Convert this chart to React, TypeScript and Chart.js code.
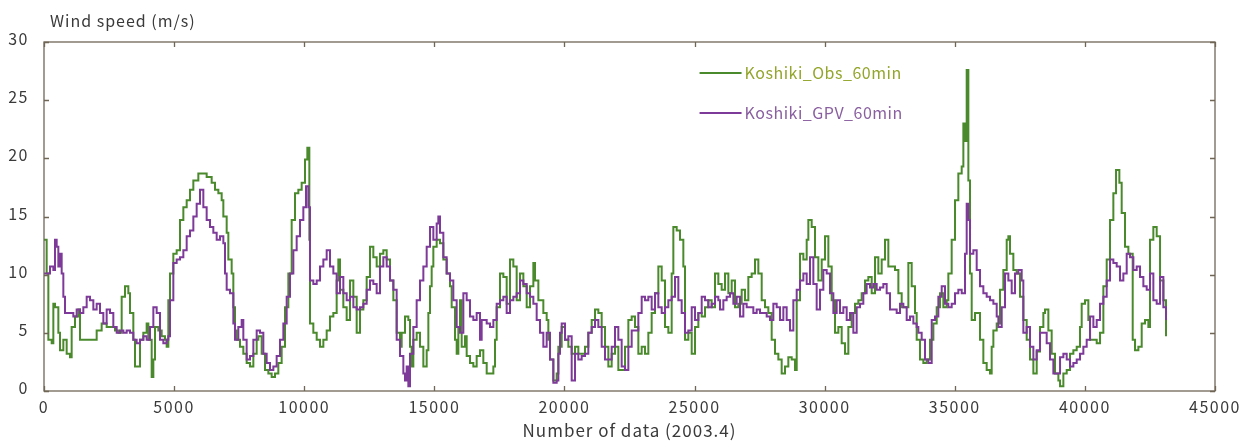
import { useEffect, useRef } from 'react';
import { Chart, registerables } from 'chart.js';

Chart.register(...registerables);

// [data index, wind speed m/s]
const obsPoints: [number, number][] = [
  [0,13.0],[102,10.1],[167,4.4],[295,4.1],[359,7.5],[423,7.2],[551,5.0],[615,3.5],[743,4.4],[871,3.2],[999,2.9],[1063,5.5],[1191,6.4],[1319,7.0],[1383,4.4],[1576,4.4],[1768,4.4],[2024,5.2],[2216,5.8],[2408,5.5],[2600,5.5],[2729,5.2],[2857,5.0],[2985,8.1],[3113,9.0],[3241,8.4],[3305,6.7],[3433,4.4],[3497,2.1],[3625,2.1],[3689,4.4],[3817,5.0],[3945,5.8],[4010,4.4],[4138,1.2],[4202,2.7],[4266,5.5],[4394,5.2],[4522,4.7],[4650,4.4],[4714,3.8],[4778,7.8],[4842,10.1],[4970,11.8],[5098,12.1],[5226,14.7],[5355,15.8],[5483,16.4],[5611,17.3],[5739,18.1],[5931,18.7],
  [6251,18.4],[6443,17.9],[6571,17.3],[6700,17.0],[6828,16.4],[6892,15.0],[7020,13.6],[7084,11.3],[7212,10.1],[7276,7.2],[7340,5.2],[7404,4.4],[7532,3.8],[7660,3.2],[7788,2.4],[7917,2.1],[8045,3.2],[8173,4.4],[8237,4.7],[8365,3.2],[8493,1.8],[8621,1.5],[8749,1.2],[8877,1.5],[9005,2.4],[9133,3.8],[9262,7.2],[9390,10.1],[9518,14.7],[9646,17.0],[9774,17.3],[9902,17.9],[10030,19.9],[10120,20.9],[10197,13.0],[10222,5.8],[10350,5.0],[10479,4.4],[10607,3.8],[10735,4.4],[10863,5.2],[10991,6.4],[11119,6.7],[11247,9.5],[11311,11.3],[11375,8.7],[11503,7.2],[11631,6.1],[11760,9.5],[11888,8.1],[12016,5.0],[12144,7.0],[12272,7.8],[12400,9.8],[12528,12.4],
  [12656,11.5],[12784,10.7],[12912,11.8],[13040,12.1],[13169,11.3],[13297,9.5],[13425,7.8],[13553,5.0],[13681,3.8],[13745,5.0],[13873,6.4],[14001,6.1],[14065,3.8],[14129,2.1],[14193,4.4],[14321,5.0],[14450,3.8],[14578,2.1],[14706,3.5],[14770,6.7],[14834,9.0],[14898,10.7],[14962,12.4],[15090,13.0],[15218,12.7],[15346,11.3],[15474,10.1],[15602,9.0],[15666,7.2],[15795,4.4],[15859,3.2],[15923,5.5],[15987,7.8],[16051,3.8],[16179,4.7],[16243,3.0],[16371,2.4],[16499,2.1],[16627,3.0],[16755,3.5],[16883,2.4],[17012,1.5],[17140,1.5],[17268,2.1],[17332,4.4],[17396,7.2],[17524,10.1],[17652,9.8],[17780,7.5],[17908,11.3],[18036,10.7],[18164,7.8],[18293,10.1],[18421,9.0],[18549,7.2],[18677,9.0],[18805,11.0],[18869,9.5],[18997,7.8],
  [19189,6.7],[19317,6.1],[19381,4.4],[19445,2.7],[19573,0.9],[19702,1.5],[19766,3.8],[19894,5.5],[20022,4.4],[20150,3.8],[20278,3.2],[20406,3.8],[20534,3.2],[20662,3.2],[20790,3.8],[20918,5.0],[21047,6.1],[21175,7.0],[21303,6.7],[21431,5.5],[21559,3.8],[21687,2.1],[21815,3.2],[21943,3.8],[22071,1.8],[22199,1.8],[22328,3.8],[22456,6.1],[22584,6.4],[22712,5.5],[22840,3.2],[22968,3.8],[23096,3.2],[23224,5.0],[23352,6.7],[23480,8.4],[23609,10.7],[23737,9.5],[23865,5.5],[23993,5.0],[24121,10.1],[24185,14.1],[24313,13.8],[24441,13.0],[24569,10.7],[24633,4.4],[24761,5.0],[24890,3.2],[25018,5.5],[25146,6.7],[25274,6.4],[25402,7.2],[25530,7.8],[25658,7.2],[25786,10.1],
  [25914,9.2],[26042,8.7],[26170,10.1],[26299,8.4],[26427,9.5],[26555,7.2],[26683,7.5],[26811,8.7],[26939,7.8],[27067,9.8],[27195,10.1],[27323,11.3],[27451,10.1],[27580,7.8],[27708,7.2],[27836,6.7],[27964,4.4],[28092,3.2],[28220,2.7],[28348,1.5],[28476,2.1],[28604,2.9],[28733,2.7],[28861,1.8],[28925,7.8],[29053,11.8],[29181,11.3],[29309,13.0],[29373,14.7],[29501,14.1],[29629,11.5],[29757,9.5],[29886,11.3],[30014,13.3],[30142,10.7],[30270,7.8],[30398,5.0],[30526,5.5],[30654,4.1],[30782,3.2],[30910,5.5],[31039,6.7],[31166,7.5],[31294,7.8],[31423,8.4],[31551,9.5],[31679,9.8],[31807,8.4],[31935,11.5],[32063,10.1],[32191,11.3],[32319,13.0],
  [32447,10.7],[32575,10.7],[32703,10.4],[32832,8.4],[32960,7.2],[33088,7.2],[33216,11.0],[33344,9.0],[33472,6.7],[33536,4.4],[33664,2.7],[33792,2.4],[33920,2.7],[34049,4.4],[34177,5.8],[34305,7.2],[34433,8.4],[34561,7.2],[34689,7.8],[34753,10.1],[34881,13.0],[35009,16.4],[35137,18.7],[35266,19.3],[35330,23.0],[35394,21.5],[35458,27.6],[35496,27.6],[35522,18.1],[35586,10.1],[35650,6.1],[35778,6.7],[35906,6.7],[35970,4.4],[36098,2.4],[36226,1.8],[36354,1.5],[36418,3.8],[36483,5.2],[36611,5.8],[36739,8.7],[36867,10.4],[36995,13.0],[37059,13.3],[37123,11.8],[37251,10.4],[37379,10.1],[37507,8.1],[37635,6.1],[37763,4.4],[37891,2.7],[38020,1.5],[38148,3.4],
  [38276,5.5],[38404,6.7],[38468,7.0],[38596,5.2],[38724,3.2],[38852,1.5],[38981,0.9],[39045,0.4],[39173,1.5],[39301,1.8],[39429,3.2],[39557,3.5],[39685,3.8],[39813,5.5],[39877,7.5],[40005,7.8],[40133,6.1],[40198,4.4],[40326,4.4],[40454,4.1],[40582,5.0],[40710,9.0],[40838,11.3],[40966,14.7],[41094,17.0],[41197,19.0],[41325,17.9],[41414,15.3],[41542,12.4],[41671,11.8],[41799,11.8],[41837,4.4],[41927,3.5],[42055,3.8],[42183,5.8],[42311,6.1],[42439,5.5],[42503,13.0],[42631,14.1],[42759,13.3],[42888,9.5],[43016,7.8],[43118,4.7],
];

const gpvPoints: [number, number][] = [
  [0,10.1],[102,10.1],[231,10.7],[359,10.4],[423,13.0],[487,12.4],[551,10.7],[615,11.8],[679,10.1],[743,8.1],[807,6.7],[935,6.7],[1063,6.7],[1127,6.4],[1255,7.0],[1383,6.7],[1511,7.2],[1640,8.1],[1768,7.8],[1896,7.0],[2024,7.5],[2152,6.7],[2280,5.8],[2408,7.0],[2536,6.7],[2664,5.5],[2793,5.0],[2921,5.2],[3049,5.0],[3177,5.2],[3305,5.0],[3433,4.4],[3561,4.1],[3689,4.4],[3817,4.7],[3945,4.4],[4074,5.5],[4202,7.2],[4330,6.7],[4458,4.4],[4586,4.1],[4714,4.4],[4778,4.7],[4842,7.8],[4970,11.0],[5098,11.3],[5226,11.5],[5355,12.1],[5483,13.3],[5611,13.8],[5739,15.0],[5867,16.1],[5995,17.3],
  [6123,15.8],[6251,14.7],[6379,14.1],[6507,13.6],[6636,13.0],[6764,13.3],[6892,12.7],[6956,10.1],[7020,8.7],[7148,8.4],[7276,5.8],[7340,4.4],[7468,5.5],[7596,6.1],[7660,4.4],[7788,2.7],[7917,3.0],[8045,4.4],[8173,5.2],[8301,5.0],[8429,3.2],[8557,2.4],[8685,1.8],[8813,2.1],[8941,3.0],[9069,4.4],[9198,5.8],[9326,8.1],[9454,10.1],[9582,12.1],[9710,13.3],[9838,14.7],[9966,15.8],[10069,17.6],[10158,15.8],[10222,9.5],[10350,9.2],[10479,9.5],[10607,10.7],[10735,11.3],[10863,12.1],[10991,10.7],[11119,10.1],[11247,8.4],[11375,9.8],[11503,8.4],[11631,7.8],[11760,8.1],[11888,7.2],[12016,7.0],[12144,7.2],[12272,7.5],[12400,8.7],[12528,9.5],
  [12656,9.2],[12784,8.4],[12912,10.7],[13040,11.5],[13169,10.7],[13297,9.5],[13425,8.7],[13553,4.4],[13681,3.0],[13809,1.5],[13873,0.9],[13937,2.1],[14001,0.4],[14065,3.2],[14193,5.5],[14321,7.8],[14450,9.5],[14578,10.7],[14706,12.4],[14834,14.1],[14962,13.0],[15090,14.4],[15154,15.0],[15218,13.6],[15346,11.5],[15474,10.1],[15602,9.5],[15730,7.8],[15859,5.5],[15987,5.0],[16115,8.4],[16243,7.8],[16371,6.4],[16499,6.1],[16627,6.7],[16755,4.4],[16819,6.1],[17012,5.8],[17140,5.5],[17268,6.1],[17396,7.5],[17524,7.8],[17652,8.1],[17780,6.7],[17908,7.8],[18036,8.1],[18164,8.4],[18293,9.5],[18421,9.2],[18549,8.4],[18677,8.1],[18805,7.5],[18933,6.1],[19061,5.0],[19189,3.8],[19317,5.0],[19445,2.7],
  [19573,0.7],[19702,0.9],[19766,3.2],[19830,5.0],[19894,5.8],[20022,4.4],[20150,4.7],[20278,0.9],[20406,3.2],[20534,2.7],[20662,3.0],[20790,3.2],[20918,5.0],[21047,5.5],[21175,6.1],[21303,5.5],[21431,3.8],[21559,2.7],[21687,2.7],[21815,3.8],[21943,5.5],[22071,4.4],[22199,2.1],[22328,1.8],[22456,3.8],[22584,5.2],[22712,5.2],[22840,6.7],[22968,8.1],[23096,7.8],[23224,8.1],[23352,7.0],[23480,8.4],[23609,7.2],[23737,6.7],[23865,7.2],[23993,7.8],[24121,8.1],[24249,9.8],[24377,7.8],[24505,6.7],[24633,5.0],[24761,5.2],[24890,7.2],[25018,6.1],[25146,6.7],[25274,8.1],[25402,7.8],[25530,7.2],[25658,7.5],[25786,8.1],[25914,7.8],
  [25978,7.0],[26106,7.8],[26234,8.1],[26363,8.4],[26491,7.5],[26619,8.1],[26747,6.4],[26875,7.5],[27003,7.2],[27131,7.2],[27259,6.7],[27387,7.0],[27515,6.7],[27644,6.7],[27772,6.4],[27900,6.1],[28028,7.5],[28156,7.2],[28284,6.1],[28412,7.2],[28540,6.1],[28668,5.2],[28796,7.8],[28925,8.7],[29053,9.5],[29181,10.1],[29309,9.2],[29437,11.5],[29565,9.2],[29693,7.0],[29821,8.7],[29949,10.4],[30077,10.1],[30206,8.4],[30334,6.7],[30462,7.8],[30590,6.7],[30718,7.2],[30846,6.1],[30974,6.7],[31102,5.0],[31230,7.2],[31358,7.5],[31486,8.4],[31614,9.2],[31742,8.9],[31871,9.2],[31999,8.7],[32127,8.9],[32255,9.2],[32383,8.4],[32511,7.0],
  [32639,7.0],[32768,6.7],[32896,7.5],[33024,7.2],[33152,6.1],[33280,6.4],[33408,5.8],[33536,5.5],[33600,5.0],[33728,4.4],[33856,2.7],[33984,2.4],[34113,6.1],[34241,6.4],[34369,8.1],[34497,9.0],[34625,7.5],[34753,7.2],[34881,7.5],[35009,8.4],[35137,8.7],[35266,8.4],[35394,11.8],[35458,16.1],[35522,14.7],[35586,11.8],[35714,12.1],[35842,10.4],[35970,9.0],[36098,8.4],[36226,8.1],[36354,7.8],[36483,7.5],[36611,6.4],[36675,5.5],[36803,7.2],[36931,10.1],[37059,9.5],[37187,8.4],[37315,10.1],[37443,10.4],[37571,9.5],[37635,5.0],[37763,5.5],[37891,3.8],[38020,2.7],[38148,3.5],
  [38276,5.0],[38404,5.0],[38532,4.1],[38660,2.7],[38788,1.5],[38916,1.5],[39045,2.9],[39173,3.2],[39301,2.7],[39429,2.1],[39557,2.4],[39685,2.7],[39813,3.2],[39941,3.8],[40069,4.4],[40198,6.4],[40326,5.5],[40454,6.1],[40582,7.5],[40710,8.1],[40838,9.5],[40966,11.3],[41094,11.0],[41222,10.7],[41350,9.5],[41478,10.1],[41607,11.8],[41735,11.5],[41863,10.4],[41991,10.7],[42119,9.8],[42247,9.0],[42375,8.7],[42503,10.1],[42631,7.8],[42759,7.5],[42888,9.8],[43016,7.2],[43118,6.1],
];

const seriesNames = ['Koshiki_Obs_60min', 'Koshiki_GPV_60min'];
const xTitle = 'Number of data (2003.4)';
const yTitle = 'Wind speed (m/s)';
const xMin = 0, xMax = 45000, xStep = 5000;
const yMin = 0, yMax = 30, yStep = 5;

const OBS_COLOR = '#4a8a2c';
const GPV_COLOR = '#7d3a98';
const OBS_TEXT = '#93a52a';
const GPV_TEXT = '#8a5fa0';
const AXIS_COLOR = '#6f6656';
const TEXT_COLOR = '#3a3a3a';
const FONT = "'Noto Sans CJK JP', 'Noto Sans', sans-serif";

export default function App() {
  const ref = useRef<HTMLCanvasElement>(null);

  useEffect(() => {
    if (!ref.current) return;
    const decor = {
      id: 'decor',
      beforeDraw(chart: any) {
        (chart.ctx as any).letterSpacing = '1.5px';
      },
      afterDraw(chart: any) {
        const { ctx, chartArea: a, scales } = chart;
        ctx.save();
        ctx.strokeStyle = AXIS_COLOR;
        ctx.lineWidth = 1.3;
        ctx.strokeRect(a.left, a.top, a.right - a.left, a.bottom - a.top);
        const tl = 5;
        ctx.beginPath();
        scales.x.ticks.forEach((t: any) => {
          const px = Math.round(scales.x.getPixelForValue(t.value)) + 0.5;
          ctx.moveTo(px, a.bottom); ctx.lineTo(px, a.bottom - tl);
          ctx.moveTo(px, a.top); ctx.lineTo(px, a.top + tl);
        });
        scales.y.ticks.forEach((t: any) => {
          const py = Math.round(scales.y.getPixelForValue(t.value)) + 0.5;
          ctx.moveTo(a.left, py); ctx.lineTo(a.left + tl, py);
          ctx.moveTo(a.right, py); ctx.lineTo(a.right - tl, py);
        });
        ctx.stroke();

        // y title (horizontal, top-left)
        ctx.font = `16px ${FONT}`;
        ctx.letterSpacing = '1px';
        ctx.fillStyle = TEXT_COLOR;
        ctx.textAlign = 'left';
        ctx.textBaseline = 'middle';
        ctx.fillText(yTitle, a.left + 6, 21);

        // x title
        ctx.font = `17px ${FONT}`;
        ctx.letterSpacing = '1px';
        ctx.textAlign = 'center';
        ctx.fillText(xTitle, (a.left + a.right) / 2, 431);

        // legend
        ctx.textAlign = 'left';
        const lx = scales.x.getPixelForValue(25000) + 5;
        const rows = [
          { name: seriesNames[0], line: OBS_COLOR, text: OBS_TEXT, y: a.top + 31 },
          { name: seriesNames[1], line: GPV_COLOR, text: GPV_TEXT, y: a.top + 71 },
        ];
        rows.forEach((r) => {
          ctx.strokeStyle = r.line;
          ctx.lineWidth = 2;
          ctx.beginPath();
          ctx.moveTo(lx, r.y); ctx.lineTo(lx + 42, r.y);
          ctx.stroke();
          ctx.fillStyle = r.text;
          ctx.font = `16px ${FONT}`;
          ctx.letterSpacing = '0.5px';
          ctx.fillText(r.name, lx + 45, r.y);
        });
        ctx.restore();
        ctx.letterSpacing = '0px';
      },
    };

    const chart = new Chart(ref.current, {
      type: 'line',
      data: {
        datasets: [
          {
            label: seriesNames[0],
            data: obsPoints.map(([x, y]) => ({ x, y })),
            borderColor: OBS_COLOR,
            borderWidth: 2,
            pointRadius: 0,
            stepped: true,
            fill: false,
            order: 2,
          },
          {
            label: seriesNames[1],
            data: gpvPoints.map(([x, y]) => ({ x, y })),
            borderColor: GPV_COLOR,
            borderWidth: 2,
            pointRadius: 0,
            stepped: true,
            fill: false,
            order: 1,
          },
        ],
      },
      options: {
        animation: false,
        responsive: true,
        maintainAspectRatio: false,
        layout: { padding: { left: 0, right: 34, top: 42, bottom: 0 } },
        plugins: { legend: { display: false }, tooltip: { enabled: false } },
        scales: {
          x: {
            type: 'linear',
            min: xMin,
            max: xMax,
            grid: { display: false, drawTicks: false },
            border: { display: false },
            ticks: {
              stepSize: xStep,
              color: TEXT_COLOR,
              font: { family: FONT, size: 16 },
              padding: 6,
              maxRotation: 0,
              callback: (v: any) => String(v),
            },
            afterFit: (s: any) => { s.height = 53; },
          },
          y: {
            type: 'linear',
            min: yMin,
            max: yMax,
            grid: { display: false, drawTicks: false },
            border: { display: false },
            ticks: {
              stepSize: yStep,
              color: TEXT_COLOR,
              font: { family: FONT, size: 16 },
              padding: 15,
              labelOffset: -3,
              callback: (v: any) => String(v),
            },
            afterFit: (s: any) => { s.width = 44; },
          },
        },
      },
      plugins: [decor],
    });
    return () => chart.destroy();
  }, []);

  return (
    <div style={{ position: 'fixed', left: 0, top: 0, width: 1249, height: 444, background: '#fff' }}>
      <canvas ref={ref} />
    </div>
  );
}
